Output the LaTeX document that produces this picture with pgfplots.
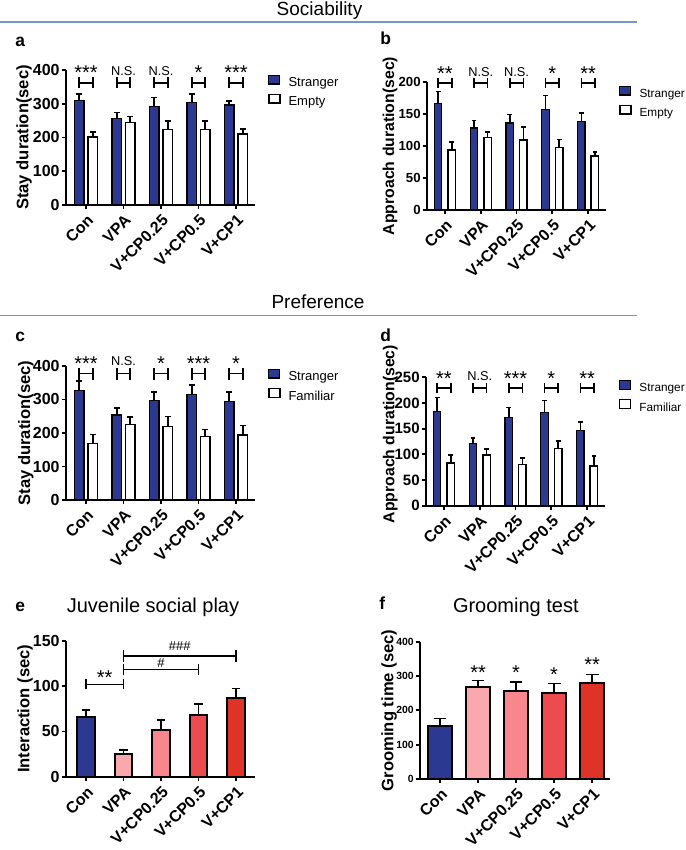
\documentclass[border=0pt]{standalone}
\usepackage{pgfplots}
\pgfplotsset{compat=1.18}
\usepackage{fontspec}
\setmainfont{Liberation Sans}
\definecolor{navy}{HTML}{2B3990}
\definecolor{pk1}{HTML}{F9A8AE}
\definecolor{pk2}{HTML}{F8878D}
\definecolor{rd1}{HTML}{EC4C50}
\definecolor{rd2}{HTML}{DF3328}
\definecolor{hdr}{HTML}{7896C8}
\newcommand\tlfont{\fontsize{8}{9}\selectfont\bfseries}
\newcommand\smtlfont{\fontsize{5.2}{6}\selectfont\bfseries}
\newcommand\lblfont{\fontsize{8.3}{10}\selectfont\bfseries}
\newcommand\legfont{\fontsize{6.5}{7}\selectfont}
\newcommand\slegfont{\fontsize{5.9}{7}\selectfont}
\newcommand\starfont{\fontsize{10}{11}\selectfont}
\newcommand\nsfont{\fontsize{6.4}{7}\selectfont}
\newcommand\hdfont{\fontsize{9.5}{11}\selectfont}
\newcommand\titfont{\fontsize{10}{12}\selectfont}
\newcommand\letfont{\fontsize{8.7}{10}\selectfont\bfseries}
\newcommand\hashfont{\fontsize{6.5}{7}\selectfont}
\newcommand{\hbr}[5]{\draw[line width=0.8pt] (axis cs:#1,#3) -- (axis cs:#1,#5) (axis cs:#1,#4) -- (axis cs:#2,#4) (axis cs:#2,#3) -- (axis cs:#2,#5);}
\newcommand{\st}[3]{\node[anchor=base, font=\starfont, inner sep=0pt, yshift=-1.2pt] at (axis cs:#1,#2) {#3};}
\newcommand{\ns}[2]{\node[anchor=base, font=\nsfont, inner sep=0pt, yshift=1pt] at (axis cs:#1,#2) {N.S.};}
\pgfplotsset{
 gp/.style={
  scale only axis, clip=false,
  axis x line*=bottom, axis y line*=left,
  axis line style={line width=1pt,black},
  every tick/.style={line width=0.9pt,black},
  tick align=outside, major tick length=2pt,
  xtick={0,1,2,3,4},
  xticklabels={Con,VPA,V+CP0.25,V+CP0.5,V+CP1},
  xticklabel style={font=\tlfont, xshift=3pt, yshift=-3.5pt, rotate=45, anchor=east, inner sep=1pt},
  yticklabel style={font=\tlfont, inner sep=1pt},
  /pgf/number format/assume math mode=true,
  ylabel style={font=\lblfont, inner sep=0pt, anchor=center},
  ymin=0, legend cell align=left,
  legend style={draw=none, fill=none, font=\legfont, inner sep=0pt, outer sep=0pt, column sep=4pt, row sep=0pt, nodes={inner sep=0pt, text height=6pt, text depth=3.5pt}},
 },
 sbar/.style={ybar, bar width=#1, bar shift=0pt, draw=black, line width=0.6pt, fill=navy,
   legend image code/.code={\draw[fill=navy, draw=black, line width=0.6pt] (0pt,0.1pt) rectangle (5.5pt,4.5pt);}},
 ebar/.style={ybar, bar width=#1, bar shift=0pt, draw=black, line width=0.75pt, fill=white,
   legend image code/.code={\draw[fill=white, draw=black, line width=0.75pt] (0pt,0.1pt) rectangle (5.5pt,4.5pt);}},
 errb/.style={/pgfplots/error bars/y dir=plus, /pgfplots/error bars/y explicit,
   /pgfplots/error bars/error bar style={line width=0.8pt,black,solid},
   /pgfplots/error bars/error mark options={rotate=90, line width=0.8pt, black, mark size=#1}},
 onebar/.style={ybar, bar width=#1, bar shift=0pt, draw=black, line width=1pt},
}
\begin{document}
\begin{tikzpicture}
\path[use as bounding box] (0,0) rectangle (342.5pt,425pt);
% section headers
\draw[hdr, line width=0.8pt] (0,414pt) -- (318.5pt,414pt);
\node[anchor=base, font=\hdfont, inner sep=0pt] at (159.75pt,417pt) {Sociability};
\draw[hdr, line width=0.8pt] (0,267.15pt) -- (318.5pt,267.15pt);
\node[anchor=base, font=\hdfont, inner sep=0pt] at (159pt,270.85pt) {Preference};
% panel letters
\node[anchor=base west, font=\letfont, inner sep=0pt] at (7.5pt,401.5pt) {a};
\node[anchor=base west, font=\letfont, inner sep=0pt] at (190pt,402.5pt) {b};
\node[anchor=base west, font=\letfont, inner sep=0pt] at (7.5pt,254pt) {c};
\node[anchor=base west, font=\letfont, inner sep=0pt] at (190pt,254pt) {d};
\node[anchor=base west, font=\letfont, inner sep=0pt] at (7.5pt,119pt) {e};
\node[anchor=base west, font=\letfont, inner sep=0pt] at (189.5pt,120pt) {f};
\node[anchor=base, font=\titfont, inner sep=0pt] at (76.5pt,118.75pt) {Juvenile social play};
\node[anchor=base, font=\titfont, inner sep=0pt] at (257.9pt,118.5pt) {Grooming test};

% ---------- panel a ----------
\begin{axis}[gp, at={(33pt,322.5pt)}, anchor=south west, width=94.5pt, height=67.5pt,
  xmin=-0.533, xmax=4.507, ymax=400, ytick={0,100,200,300,400},
  ylabel={Stay duration(sec)}, ylabel style={at={(axis description cs:-0.222,0.5)}},
  legend style={at={(axis description cs:1.069,0.966)}, anchor=north west}]
\addplot[sbar=0.25, errb=1.5pt] table[x expr=\thisrow{x}-0.18, y=y, y error=e]{
x y e
0 309 19
1 256 18
2 292 26
3 304 25
4 296 13
};
\addplot[ebar=0.25, errb=1.5pt] table[x expr=\thisrow{x}+0.18, y=y, y error=e]{
x y e
0 201 15
1 245 17
2 224 25
3 223 26
4 210 15
};
\legend{Stranger,Empty}
\hbr{-0.18}{0.18}{347}{361}{379}
\hbr{0.82}{1.18}{347}{361}{379}
\hbr{1.82}{2.18}{347}{361}{379}
\hbr{2.82}{3.18}{347}{361}{379}
\hbr{3.82}{4.18}{347}{361}{379}
\st{0}{379}{***}
\ns{1}{379}
\ns{2}{379}
\st{3}{379}{*}
\st{4}{379}{***}
\end{axis}

% ---------- panel b ----------
\begin{axis}[gp, at={(213.5pt,320pt)}, anchor=south west, width=89.5pt, height=64pt,
  xmin=-0.5, xmax=4.5, ymax=200, ytick={0,50,100,150,200},
  yticklabel style={font=\fontsize{6.6}{8}\selectfont\bfseries},
  ylabel={Approach duration(sec)}, ylabel style={font=\fontsize{7.9}{9}\selectfont\bfseries, at={(axis description cs:-0.207,0.5)}},
  legend style={font=\slegfont, at={(axis description cs:1.073,0.972)}, anchor=north west}]
\addplot[sbar=0.21, errb=1.2pt] table[x expr=\thisrow{x}-0.19, y=y, y error=e]{
x y e
0 167 18
1 128 12
2 136 13
3 157 22
4 138 14
};
\addplot[ebar=0.21, errb=1.2pt] table[x expr=\thisrow{x}+0.19, y=y, y error=e]{
x y e
0 94 12
1 113 9
2 109 21
3 98 12
4 84 7
};
\legend{Stranger,Empty}
\hbr{-0.19}{0.19}{190.6}{198.4}{206}
\hbr{0.81}{1.19}{190.6}{198.4}{206}
\hbr{1.81}{2.19}{190.6}{198.4}{206}
\hbr{2.81}{3.19}{190.6}{198.4}{206}
\hbr{3.81}{4.19}{190.6}{198.4}{206}
\st{0}{206}{**}
\ns{1}{206}
\ns{2}{206}
\st{3}{206}{*}
\st{4}{206}{**}
\end{axis}

% ---------- panel c ----------
\begin{axis}[gp, at={(33pt,175pt)}, anchor=south west, width=94.5pt, height=67pt,
  xmin=-0.533, xmax=4.507, ymax=400, ytick={0,100,200,300,400},
  ylabel={Stay duration(sec)}, ylabel style={at={(axis description cs:-0.212,0.5)}},
  legend style={at={(axis description cs:1.069,0.98)}, anchor=north west}]
\addplot[sbar=0.25, errb=1.5pt] table[x expr=\thisrow{x}-0.18, y=y, y error=e]{
x y e
0 326 30
1 254 20
2 297 26
3 316 27
4 294 29
};
\addplot[ebar=0.25, errb=1.5pt] table[x expr=\thisrow{x}+0.18, y=y, y error=e]{
x y e
0 169 27
1 226 21
2 219 30
3 189 22
4 194 28
};
\legend{Stranger,Familiar}
\hbr{-0.18}{0.18}{358.7}{378}{394.5}
\hbr{0.82}{1.18}{358.7}{378}{394.5}
\hbr{1.82}{2.18}{358.7}{378}{394.5}
\hbr{2.82}{3.18}{358.7}{378}{394.5}
\hbr{3.82}{4.18}{358.7}{378}{394.5}
\st{0}{394.5}{***}
\ns{1}{394.5}
\st{2}{394.5}{*}
\st{3}{394.5}{***}
\st{4}{394.5}{*}
\end{axis}

% ---------- panel d ----------
\begin{axis}[gp, at={(213pt,172.15pt)}, anchor=south west, width=89.5pt, height=64.2pt,
  xmin=-0.5, xmax=4.5, ymax=250, ytick={0,50,100,150,200,250},
  yticklabel style={font=\fontsize{7.5}{8}\selectfont\bfseries},
  ylabel={Approach duration(sec)}, ylabel style={font=\fontsize{7.9}{9}\selectfont\bfseries, at={(axis description cs:-0.20,0.558)}},
  legend style={font=\slegfont, at={(axis description cs:1.078,0.98)}, anchor=north west}]
\addplot[sbar=0.21, errb=1.2pt] table[x expr=\thisrow{x}-0.19, y=y, y error=e]{
x y e
0 183 28
1 121 11
2 172 19
3 181 24
4 147 16
};
\addplot[ebar=0.21, errb=1.2pt] table[x expr=\thisrow{x}+0.19, y=y, y error=e]{
x y e
0 83 16
1 99 11
2 80 13
3 111 15
4 77 20
};
\legend{Stranger,Familiar}
\hbr{-0.19}{0.19}{219}{228.6}{239}
\hbr{0.81}{1.19}{219}{228.6}{239}
\hbr{1.81}{2.19}{219}{228.6}{239}
\hbr{2.81}{3.19}{219}{228.6}{239}
\hbr{3.81}{4.19}{219}{228.6}{239}
\st{0}{239}{**}
\ns{1}{239}
\st{2}{239}{***}
\st{3}{239}{*}
\st{4}{239}{**}
\end{axis}

% ---------- panel e ----------
\begin{axis}[gp, at={(33pt,36.65pt)}, anchor=south west, width=94.5pt, height=67.85pt,
  xmin=-0.533, xmax=4.507, ymax=150, ytick={0,50,100,150},
  ylabel={Interaction (sec)}, ylabel style={at={(axis description cs:-0.217,0.5)}}]
\addplot[onebar=0.47, fill=navy, errb=2.2pt] coordinates {(0,65.6) +- (0,8)};
\addplot[onebar=0.47, fill=pk1, errb=2.2pt] coordinates {(1,25) +- (0,4.5)};
\addplot[onebar=0.47, fill=pk2, errb=2.2pt] coordinates {(2,51.6) +- (0,11)};
\addplot[onebar=0.47, fill=rd1, errb=2.2pt] coordinates {(3,68.6) +- (0,12)};
\addplot[onebar=0.47, fill=rd2, errb=2.2pt] coordinates {(4,86.6) +- (0,10.7)};
\draw[line width=0.8pt] (axis cs:0,96.6) -- (axis cs:0,107.6) (axis cs:0,102) -- (axis cs:1,102) (axis cs:1,96.6) -- (axis cs:1,107.6);
\draw[line width=0.8pt] (axis cs:1,112.4) -- (axis cs:1,124.6) (axis cs:1,118.7) -- (axis cs:3,118.7) (axis cs:3,112.4) -- (axis cs:3,124.6);
\draw[line width=0.8pt] (axis cs:1,127.1) -- (axis cs:1,139.7) (axis cs:1,133.4) -- (axis cs:4,133.4) (axis cs:4,127.1) -- (axis cs:4,139.7);
\node[anchor=base, font=\starfont, inner sep=0pt] at (axis cs:0.5,102) {**};
\node[anchor=base, font=\hashfont, inner sep=0pt] at (axis cs:2,120.2) {\#};
\node[anchor=base, font=\hashfont, inner sep=0pt] at (axis cs:2.5,140) {\#\#\#};
\end{axis}

% ---------- panel f ----------
\begin{axis}[gp, at={(210pt,35.5pt)}, anchor=south west, width=95pt, height=68.65pt,
  xmin=-0.526, xmax=4.47, ymax=400, ytick={0,100,200,300,400},
  yticklabel style={font=\smtlfont},
  ylabel={Grooming time (sec)}, ylabel style={at={(axis description cs:-0.163,0.5)}}]
\addplot[onebar=0.64, fill=navy, errb=3.2pt] coordinates {(0,154) +- (0,22)};
\addplot[onebar=0.64, fill=pk1, errb=3.2pt] coordinates {(1,268) +- (0,19)};
\addplot[onebar=0.64, fill=pk2, errb=3.2pt] coordinates {(2,256) +- (0,26.5)};
\addplot[onebar=0.64, fill=rd1, errb=3.2pt] coordinates {(3,251.5) +- (0,26.5)};
\addplot[onebar=0.64, fill=rd2, errb=3.2pt] coordinates {(4,278.6) +- (0,25.5)};
\node[anchor=base, font=\starfont, inner sep=0pt] at (axis cs:1,291) {**};
\node[anchor=base, font=\starfont, inner sep=0pt] at (axis cs:2,291) {*};
\node[anchor=base, font=\starfont, inner sep=0pt] at (axis cs:3,283) {*};
\node[anchor=base, font=\starfont, inner sep=0pt] at (axis cs:4,313) {**};
\end{axis}
\end{tikzpicture}
\end{document}
